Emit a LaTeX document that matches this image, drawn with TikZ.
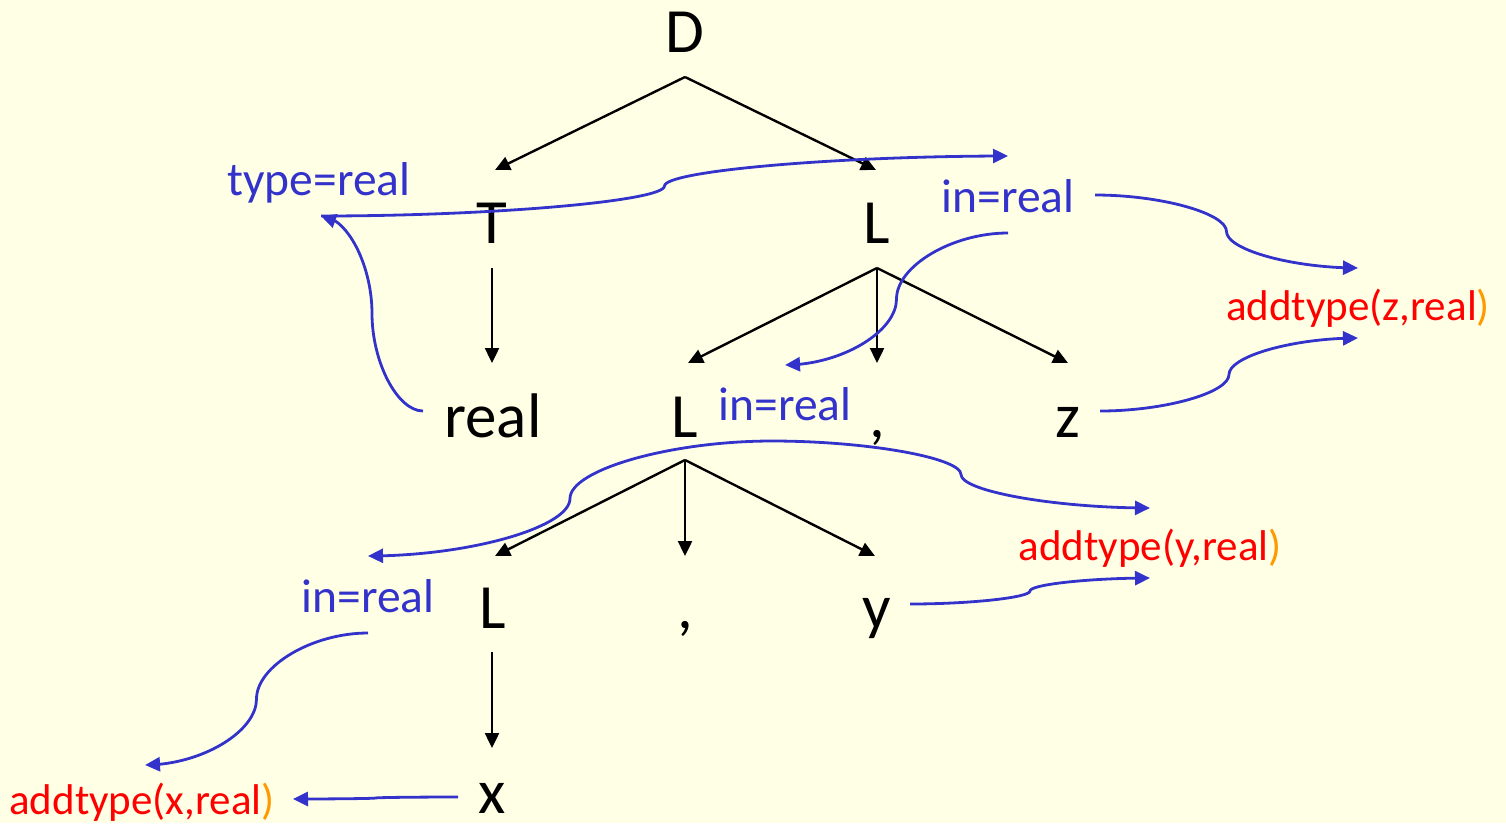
\documentclass[tikz,border=0pt]{standalone}
\usepackage{fontspec}
\setmainfont{Carlito}
\usetikzlibrary{arrows.meta,bending,calc}
\definecolor{bgc}{RGB}{255,255,229}
\definecolor{blu}{RGB}{51,51,204}
\definecolor{redc}{RGB}{255,0,0}
\definecolor{orc}{RGB}{255,153,0}
\begin{document}
\begin{tikzpicture}[x=1pt,y=-1pt,
  sym/.style={anchor=base,inner sep=0pt,font=\fontsize{63}{63}\selectfont},
  attr/.style={anchor=base,inner sep=0pt,text=blu,font=\fontsize{47.5}{47.5}\selectfont},
  act/.style={anchor=base,inner sep=0pt,text=redc,font=\fontsize{43}{43}\selectfont},
  treeedge/.style={line width=2.4pt,-{Triangle[length=15pt,width=14pt]}},
  pp/.style={to path={let \p1=(\tikztostart),\p2=(\tikztotarget) in
     .. controls ({(3*\x1+\x2)/4},\y1) and ({(\x1+\x2)/2},{(3*\y1+\y2)/4})
     .. ({(\x1+\x2)/2},{(\y1+\y2)/2})
     .. controls ({(\x1+\x2)/2},{(\y1+3*\y2)/4}) and ({(\x1+3*\x2)/4},\y2)
     .. (\tikztotarget)}},
  flow/.style={draw=blu,line width=2.8pt,-{Triangle[length=15pt,width=14pt]},pp}
]
\fill[bgc] (0,0) rectangle (1506,823);
\path[use as bounding box] (0,0) rectangle (1506,823);

% tree symbols
\node[sym] (D) at (685,52) {D};
\node[sym] (T) at (492,243) {T};
\node[sym] (L1) at (877,243) {L};
\node[sym] (real) at (493,437) {real};
\node[sym] (L2) at (685,437) {L};
\node[sym] (c1) at (877,437) {,};
\node[sym] (z) at (1068,437) {z};
\node[sym] (L3) at (493,628) {L};
\node[sym] (c2) at (685,628) {,};
\node[sym] (y) at (877,628) {y};
\node[sym] (x) at (492,813) {x};

% attributes
\node[attr] (type) at (319,195) {type=real};
\node[attr] (in1) at (1008,212) {in=real};
\node[attr] (in2) at (785,420) {in=real};
\node[attr] (in3) at (368,612) {in=real};

% actions
\node[act] (az) at (1358,320) {addtype(z,real\textcolor{orc}{)}};
\node[act] (ay) at (1150,560) {addtype(y,real\textcolor{orc}{)}};
\node[act] (ax) at (142,814) {addtype(x,real\textcolor{orc}{)}};

% tree edge end points
\coordinate (D-b) at (685,77);
\coordinate (T-t) at (495,170);
\coordinate (L1-t) at (876,170);
\coordinate (T-b) at (492,268);
\coordinate (real-t) at (492,363);
\coordinate (L1-b) at (877,268);
\coordinate (L2-t) at (688,363);
\coordinate (c1-t) at (877,363);
\coordinate (z-t) at (1068,363);
\coordinate (L2-b) at (685,460);
\coordinate (L3-t) at (495,556);
\coordinate (c2-t) at (685,556);
\coordinate (y-t) at (875,556);
\coordinate (L3-b) at (492,652);
\coordinate (x-t) at (492,748);

\draw[treeedge] (D-b) -- (T-t);
\draw[treeedge] (D-b) -- (L1-t);
\draw[treeedge] (T-b) -- (real-t);
\draw[treeedge] (L1-b) -- (L2-t);
\draw[treeedge] (L1-b) -- (c1-t);
\draw[treeedge] (L1-b) -- (z-t);
\draw[treeedge] (L2-b) -- (L3-t);
\draw[treeedge] (L2-b) -- (c2-t);
\draw[treeedge] (L2-b) -- (y-t);
\draw[treeedge] (L3-b) -- (x-t);

% flow end points
\coordinate (real-w) at (423,411);
\coordinate (type-a) at (321,216);
\coordinate (in1-in) at (1008,156);
\coordinate (in1-w) at (1008,233);
\coordinate (in2-in) at (785,365);
\coordinate (in1-e) at (1095,195);
\coordinate (az-in) at (1358,268);
\coordinate (z-e) at (1100,411);
\coordinate (az-in2) at (1358,338);
\coordinate (in2-s) at (772,441);
\coordinate (in3-in) at (368,556);
\coordinate (ay-in) at (1150,508);
\coordinate (y-e) at (910,604);
\coordinate (ay-in2) at (1150,578);
\coordinate (in3-s) at (368,633);
\coordinate (ax-in) at (145,765);
\coordinate (x-w) at (458,797);
\coordinate (ax-e) at (293,799);

\draw[flow] (real-w) to (type-a);
\draw[flow] (type-a) to (in1-in);
\draw[flow] (in1-w) to (in2-in);
\draw[flow] (in1-e) to (az-in);
\draw[flow] (z-e) to (az-in2);
\draw[flow] (in2-s) to (in3-in);
\draw[flow] (in2-s) to (ay-in);
\draw[flow] (y-e) to (ay-in2);
\draw[flow] (in3-s) to (ax-in);
\draw[flow] (x-w) to (ax-e);
\end{tikzpicture}
\end{document}
